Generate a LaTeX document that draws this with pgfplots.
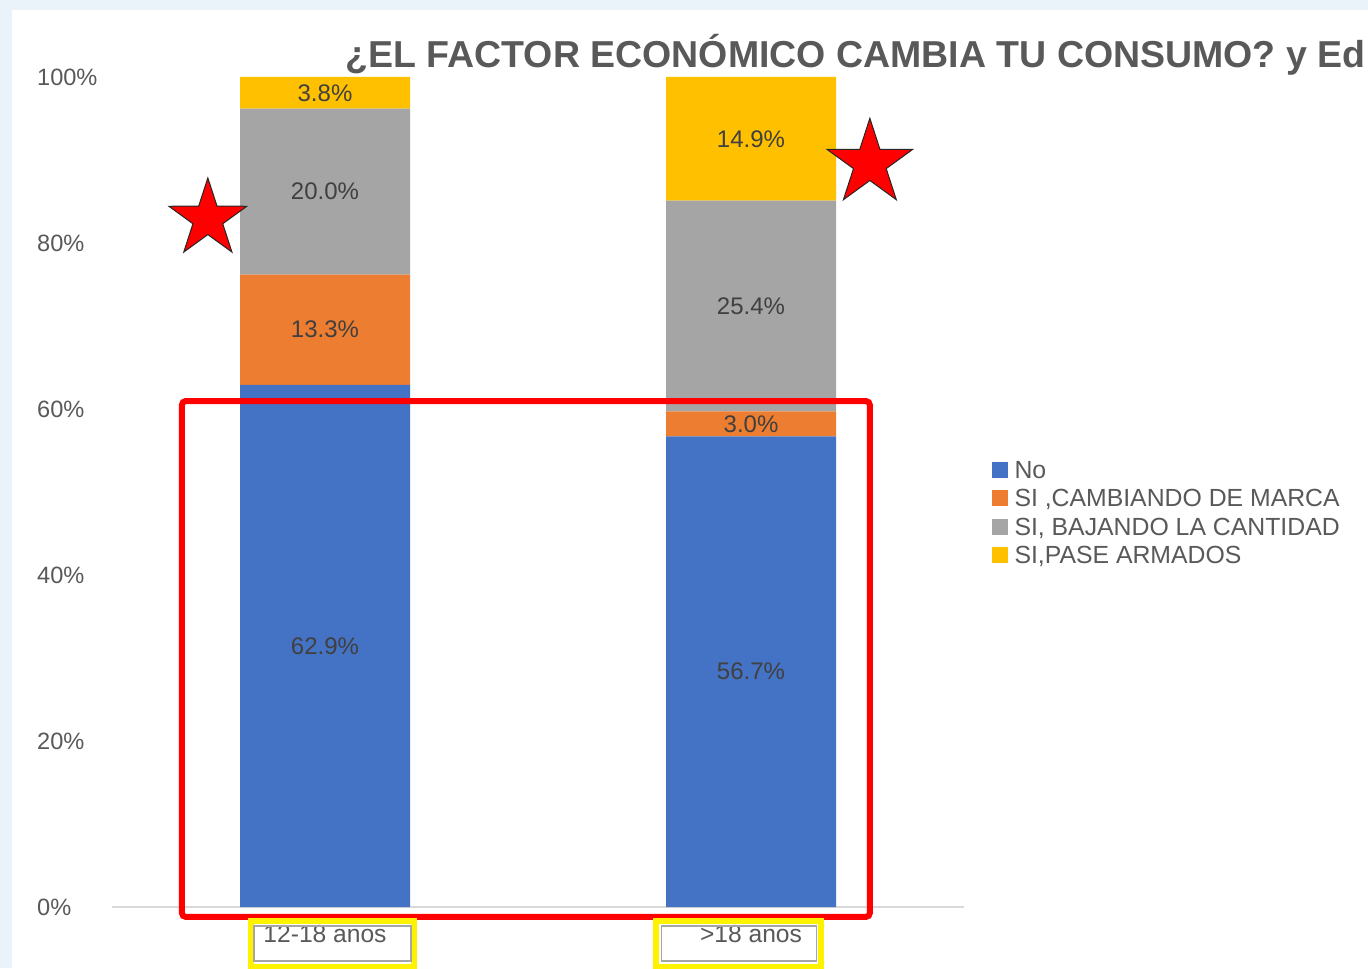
\documentclass[border=0pt]{standalone}
\usepackage{fontspec}
\setmainfont{Liberation Sans}
\usepackage{pgfplots}
\usepackage{pgfplotstable}
\pgfplotsset{compat=1.18}
\definecolor{cNo}{HTML}{4472C4}
\definecolor{cMarca}{HTML}{ED7D31}
\definecolor{cCant}{HTML}{A5A5A5}
\definecolor{cPase}{HTML}{FFC000}
\definecolor{txt}{HTML}{595959}
\definecolor{lbl}{HTML}{404040}
\definecolor{bgblue}{HTML}{EAF2FA}
\definecolor{axline}{HTML}{D9D9D9}
\definecolor{boxgray}{HTML}{A6A6A6}

\pgfdeclareplotmark{fstar}{%
  \pgfpathmoveto{\pgfpointpolar{90}{\pgfplotmarksize}}%
  \pgfpathlineto{\pgfpointpolar{126}{0.382\pgfplotmarksize}}%
  \pgfpathlineto{\pgfpointpolar{162}{\pgfplotmarksize}}%
  \pgfpathlineto{\pgfpointpolar{198}{0.382\pgfplotmarksize}}%
  \pgfpathlineto{\pgfpointpolar{234}{\pgfplotmarksize}}%
  \pgfpathlineto{\pgfpointpolar{270}{0.382\pgfplotmarksize}}%
  \pgfpathlineto{\pgfpointpolar{306}{\pgfplotmarksize}}%
  \pgfpathlineto{\pgfpointpolar{342}{0.382\pgfplotmarksize}}%
  \pgfpathlineto{\pgfpointpolar{18}{\pgfplotmarksize}}%
  \pgfpathlineto{\pgfpointpolar{54}{0.382\pgfplotmarksize}}%
  \pgfpathclose
  \pgfusepathqfillstroke
}

\pgfplotstableread{
x y
0 62.9
1 56.7
}\tNo
\pgfplotstableread{
x y
0 13.3
1 3.0
}\tMarca
\pgfplotstableread{
x y
0 20.0
1 25.4
}\tCant
\pgfplotstableread{
x y
0 3.8
1 14.9
}\tPase

\pgfplotsset{
  seg/.style={
    fill=#1, draw=none,
    nodes near coords={\pgfmathprintnumber[fixed,fixed zerofill,precision=1,assume math mode=true]{\pgfplotspointmeta}\%},
    nodes near coords align={center},
    every node near coord/.append style={anchor=center, inner sep=0pt, text=lbl,
      font=\fontsize{12}{14}\selectfont},
  },
}

\begin{document}
\begin{tikzpicture}
\clip (0,0) rectangle (684pt,484pt);
\fill[bgblue] (0,0) rectangle (684pt,484pt);
\fill[white] (6pt,0) rectangle (684pt,479pt);
\node[anchor=base west, inner sep=0pt, text=txt, font=\fontsize{18.75}{22}\selectfont\bfseries]
  at (172.5pt,450pt) {¿EL FACTOR ECONÓMICO CAMBIA TU CONSUMO? y Ed};

\begin{axis}[
  at={(56pt,30.5pt)}, anchor=south west,
  scale only axis, width=426pt, height=415pt,
  xmin=-0.5, xmax=1.5, ymin=0, ymax=100,
  ybar stacked, bar width=85pt,
  axis x line=bottom, axis y line=left,
  y axis line style={draw=none},
  x axis line style={draw=axline, line width=0.75pt, -},
  major tick style={draw=none},
  xtick={0,1}, xticklabels={12-18 anos, >18 anos},
  ytick={0,20,40,60,80,100},
  yticklabel={\pgfmathprintnumber[assume math mode=true]{\tick}\%},
  yticklabel style={anchor=west, inner xsep=0pt, xshift=-35.5pt, text=txt, font=\fontsize{11.8}{13}\selectfont},
  xticklabel style={anchor=north, inner sep=0pt, yshift=-7pt, text=txt, font=\fontsize{12.3}{14}\selectfont},
  legend style={at={(1.0318,0.541)}, anchor=north west, draw=none, fill=none,
    inner sep=0pt, row sep=2.75pt, column sep=3.5pt,
    font=\fontsize{12.4}{14}\selectfont, text=txt,
    nodes={inner sep=0pt, text height=10pt, text depth=1.5pt}},
  legend cell align=left,
  legend image code/.code={\fill[#1] (0pt,-4pt) rectangle (8pt,4pt);},
]
\addplot[seg=cNo] table[x=x,y=y,meta=y] {\tNo};
\addlegendentry{No}
\addplot[seg=cMarca] table[x=x,y=y,meta=y] {\tMarca};
\addlegendentry{SI ,CAMBIANDO DE MARCA}
\addplot[seg=cCant] table[x=x,y=y,meta=y] {\tCant};
\addlegendentry{SI, BAJANDO LA CANTIDAD}
\addplot[seg=cPase] table[x=x,y=y,meta=y] {\tPase};
\addlegendentry{SI,PASE ARMADOS}
\end{axis}

\begin{axis}[
  at={(56pt,30.5pt)}, anchor=south west,
  scale only axis, width=426pt, height=415pt,
  xmin=-0.5, xmax=1.5, ymin=0, ymax=100,
  hide axis, clip=false,
]
\draw[red, line width=3pt, rounded corners=2pt] (axis cs:-0.336,-1.2) rectangle (axis cs:1.279,60.96);
\draw[yellow, line width=3.3pt] (axis cs:-0.1737,-1.687) rectangle (axis cs:0.2089,-7.3);
\draw[boxgray, line width=0.6pt] (axis cs:-0.1667,-2.289) rectangle (axis cs:0.2019,-6.5);
\draw[yellow, line width=3.3pt] (axis cs:0.777,-1.687) rectangle (axis cs:1.164,-7.3);
\draw[boxgray, line width=0.6pt] (axis cs:0.789,-2.289) rectangle (axis cs:1.153,-6.5);
\addplot[only marks, mark=fstar, mark size=20.5pt, mark options={fill=red, draw=black!85, line width=0.5pt}] coordinates {(-0.275,82.9)};
\addplot[only marks, mark=fstar, mark size=22.5pt, mark options={fill=red, draw=black!85, line width=0.5pt}] coordinates {(1.279,89.6)};
\end{axis}
\end{tikzpicture}
\end{document}
